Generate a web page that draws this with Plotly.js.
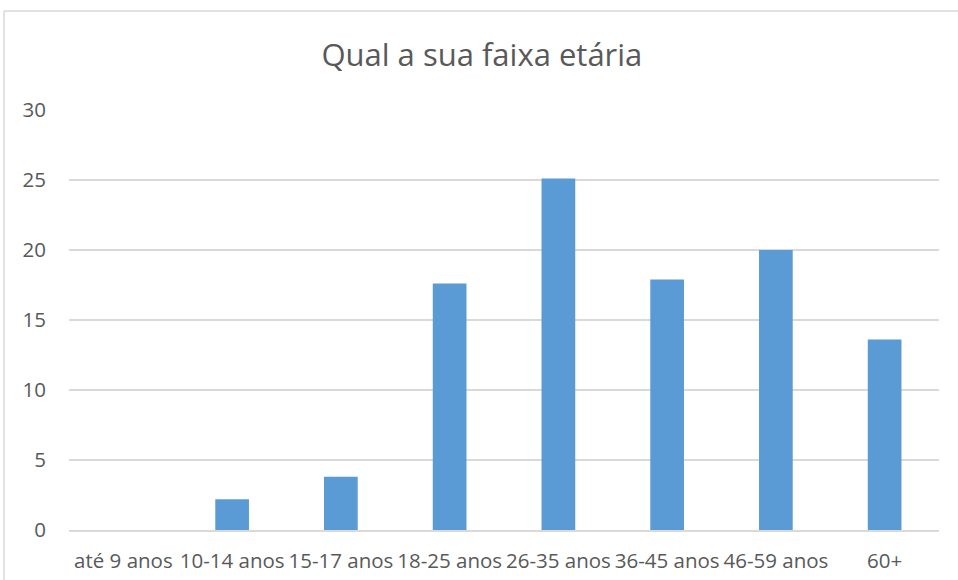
<!DOCTYPE html>
<html>
<head>
<meta charset="utf-8">
<script src="https://cdn.plot.ly/plotly-3.0.1.min.js"></script>
<style>
  html, body { margin: 0; padding: 0; background: #fff; }
  #chart { width: 958px; height: 580px; }
</style>
</head>
<body>
<div id="chart"></div>
<script>
const categories = ["até 9 anos", "10-14 anos", "15-17 anos", "18-25 anos", "26-35 anos", "36-45 anos", "46-59 anos", "60+"];
const values = [0, 2.2, 3.8, 17.6, 25.1, 17.9, 20.0, 13.6];
const yTicks = [0, 5, 10, 15, 20, 25, 30];
const titleText = "Qual a sua faixa etária";

const textColor = "#595959";
const fontFamily = "'Open Sans', sans-serif";

const data = [{
  type: "bar",
  x: categories,
  y: values,
  marker: { color: "#5B9BD5", line: { width: 0 } },
  hoverinfo: "x+y"
}];

const layout = {
  width: 958,
  height: 580,
  paper_bgcolor: "#ffffff",
  plot_bgcolor: "#ffffff",
  margin: { l: 69, r: 19, t: 110, b: 50 },
  bargap: 0.69,
  showlegend: false,
  title: {
    text: titleText,
    font: { family: fontFamily, size: 31, color: textColor },
    xref: "container",
    x: 0.503,
    xanchor: "center",
    yref: "container",
    y: 0.905,
    yanchor: "middle"
  },
  xaxis: {
    type: "category",
    tickangle: 0,
    showgrid: false,
    showline: true,
    linecolor: "#D9D9D9",
    linewidth: 1.5,
    ticks: "outside",
    ticklen: 12,
    tickcolor: "rgba(0,0,0,0)",
    tickfont: { family: fontFamily, size: 20.5, color: textColor },
    zeroline: false
  },
  yaxis: {
    range: [0, 30],
    tickvals: yTicks,
    ticktext: yTicks.map(String),
    showgrid: true,
    gridcolor: "#D9D9D9",
    gridwidth: 1.3,
    zeroline: false,
    showline: false,
    ticks: "outside",
    ticklen: 18,
    tickcolor: "rgba(0,0,0,0)",
    tickfont: { family: fontFamily, size: 20.5, color: textColor }
  },
  shapes: [
    { type: "line", xref: "paper", yref: "paper",
      x0: (4 - 69) / 870, x1: (960 - 69) / 870, y0: (530 - 11) / 420, y1: (530 - 11) / 420,
      line: { color: "#D9D9D9", width: 1.5 } },
    { type: "line", xref: "paper", yref: "paper",
      x0: (4 - 69) / 870, x1: (4 - 69) / 870, y0: (530 - 11) / 420, y1: (530 - 585) / 420,
      line: { color: "#D9D9D9", width: 1.5 } }
  ]
};

Plotly.newPlot("chart", data, layout, { displayModeBar: false, staticPlot: true });
</script>
</body>
</html>
